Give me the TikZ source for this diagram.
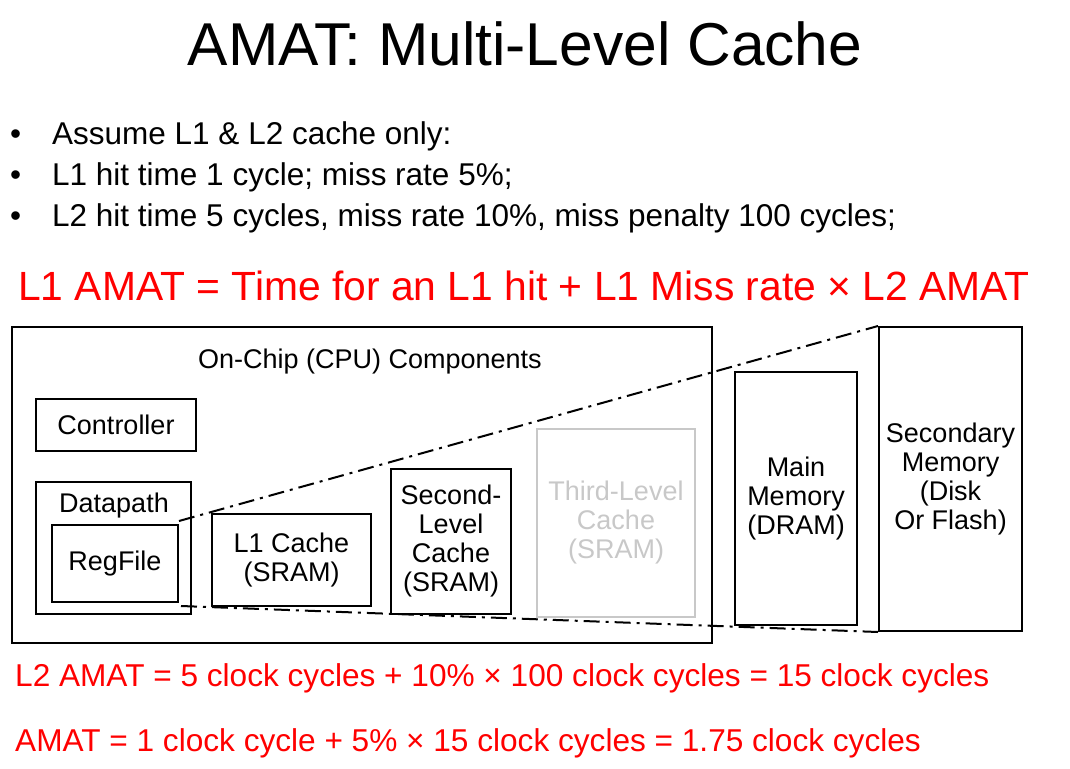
\documentclass[tikz,border=0pt]{standalone}
\usepackage{fontspec}
\setmainfont{Liberation Sans}
\begin{document}
\begin{tikzpicture}[x=1pt,y=-1pt,
  box/.style={draw,line width=2pt,rectangle,inner sep=0pt,align=center,
    font=\fontsize{27}{29}\selectfont},
  greybox/.style={box,draw=lightgrey,text=lightgrey},
  bul/.style={anchor=base west,inner sep=0pt,font=\fontsize{31.5}{36}\selectfont},
  redtxt/.style={anchor=base west,inner sep=0pt,text=red},
  lbl/.style={anchor=base,inner sep=0pt,font=\fontsize{27}{29}\selectfont},
  zoomline/.style={line width=2pt,dash pattern=on 16pt off 6pt on 3pt off 6pt}
]
\definecolor{lightgrey}{RGB}{200,200,200}
\useasboundingbox (0,0) rectangle (1070,768);
% title
\node[anchor=base,inner sep=0pt,font=\fontsize{60.5}{66}\selectfont] (title) at (525,66) {AMAT: Multi-Level Cache};
% bullets
\node[bul] (b1) at (10,144) {•};
\node[bul] (t1) at (52,144) {Assume L1 \& L2 cache only:};
\node[bul] (b2) at (10,185) {•};
\node[bul] (t2) at (52,185) {L1 hit time 1 cycle; miss rate 5\%;};
\node[bul] (b3) at (10,226) {•};
\node[bul] (t3) at (52,226) {L2 hit time 5 cycles, miss rate 10\%, miss penalty 100 cycles;};
% red formula
\node[redtxt,font=\fontsize{40.8}{46}\selectfont] (f1) at (18,300) {L1 AMAT = Time for an L1 hit + L1 Miss rate × L2 AMAT};
% boxes
\node[box,minimum width=700,minimum height=316] (chip) at (362,485) {};
\node[lbl] (chiplbl) at (370,368) {On-Chip (CPU) Components};
\node[box,minimum width=160,minimum height=52] (ctrl) at (116,425) {Controller};
\node[box,minimum width=155,minimum height=132] (dp) at (113.5,548) {};
\node[lbl] (dplbl) at (114,512) {Datapath};
\node[box,minimum width=126,minimum height=77] (reg) at (115,563.5) {RegFile};
\node[box,minimum width=159,minimum height=92] (l1) at (291.5,560) {L1 Cache\\(SRAM)};
\node[box,minimum width=120,minimum height=145] (l2) at (451,541.5) {Second-\\Level\\Cache\\(SRAM)};
\node[greybox,minimum width=158,minimum height=188] (l3) at (616,523) {Third-Level\\Cache\\(SRAM)};
\node[box,minimum width=122,minimum height=253] (mm) at (796,498.5) {Main\\Memory\\(DRAM)};
\node[box,minimum width=143,minimum height=304] (sec) at (950.5,479) {Secondary\\Memory\\(Disk\\Or Flash)};
% zoom lines
\draw[zoomline] (reg.north east) ++(0,-3) -- (sec.north west);
\draw[zoomline] (reg.south east) ++(2,3) -- (sec.south west);
% bottom formulas
\node[redtxt,font=\fontsize{31.6}{36}\selectfont] (f2) at (15,686) {L2 AMAT = 5 clock cycles + 10\% × 100 clock cycles = 15 clock cycles};
\node[redtxt,font=\fontsize{31.6}{36}\selectfont] (f3) at (15,751) {AMAT = 1 clock cycle + 5\% × 15 clock cycles = 1.75 clock cycles};
\end{tikzpicture}
\end{document}
